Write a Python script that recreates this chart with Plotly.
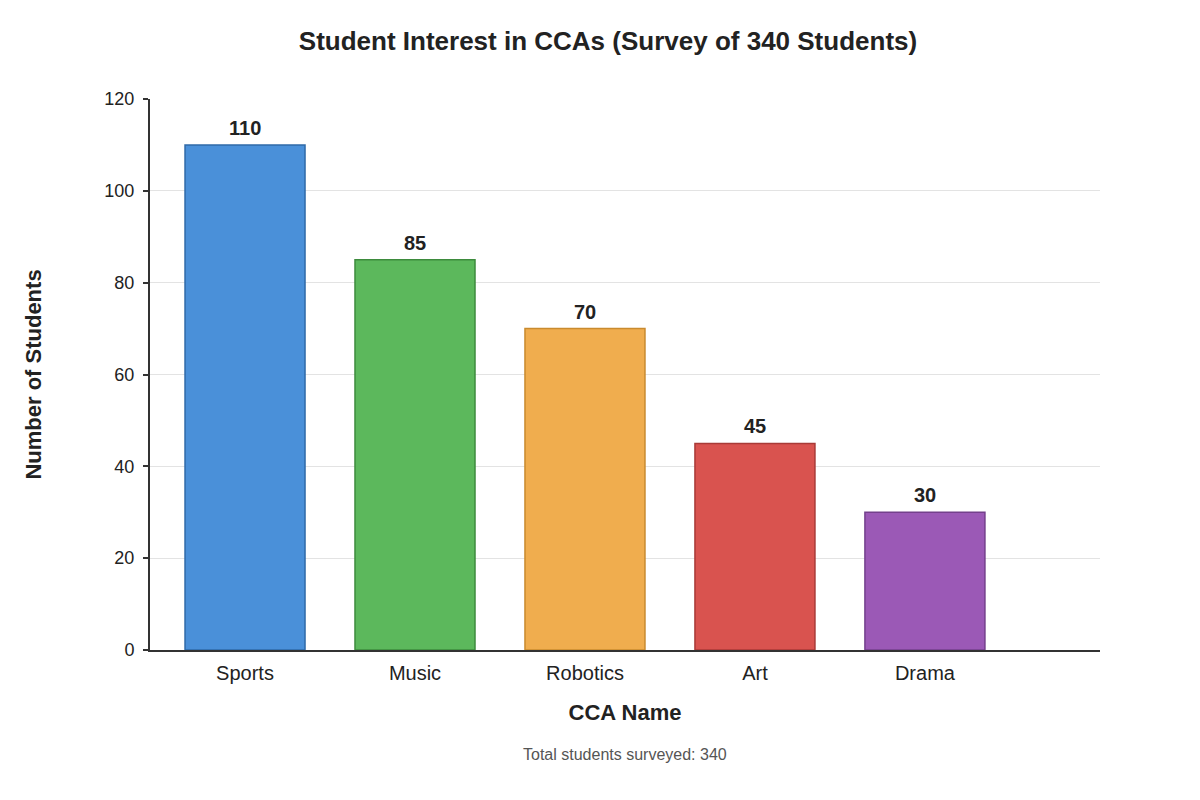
import plotly.graph_objects as go

# Datos de la encuesta
ccas = ["Sports", "Music", "Robotics", "Art", "Drama"]
students = [110, 85, 70, 45, 30]
colors = ["#4a90d9", "#5cb85c", "#f0ad4e", "#d9534f", "#9b59b6"]
outlines = ["#2f6aa8", "#3d8b3d", "#c98a2e", "#a93a37", "#74408c"]
y_ticks = [0, 20, 40, 60, 80, 100, 120]

fig = go.Figure(go.Bar(
    x=ccas,
    y=students,
    marker=dict(color=colors, line=dict(color=outlines, width=1.5)),
    width=0.706,
))

# Etiquetas de valor sobre cada barra
for cca, n in zip(ccas, students):
    fig.add_annotation(
        x=cca, y=n, text=f"<b>{n}</b>", showarrow=False,
        yanchor="bottom", yshift=4,
        font=dict(size=20, color="#222"),
    )

fig.update_layout(
    width=1200, height=800,
    paper_bgcolor="white", plot_bgcolor="white",
    font=dict(family="Liberation Sans", color="#222"),
    title=dict(text="<b>Student Interest in CCAs (Survey of 340 Students)</b>",
               x=0.5, xanchor="center", y=0.959, yanchor="middle",
               font=dict(size=26, color="#222")),
    margin=dict(l=142, r=108, t=91, b=158),
    showlegend=False,
)

fig.update_xaxes(
    range=[-0.559, 5.03],
    showline=True, linecolor="#333", linewidth=2,
    ticks="outside", ticklen=4, tickcolor="rgba(0,0,0,0)",
    tickfont=dict(size=20, color="#222"),
    title=dict(text="<b>CCA Name</b>", font=dict(size=22, color="#222"), standoff=22),
    showgrid=False,
)

fig.update_yaxes(
    range=[0, 120], tickvals=y_ticks,
    showline=True, linecolor="#333", linewidth=2,
    ticks="outside", ticklen=5, tickcolor="#333", tickwidth=2,
    ticklabelstandoff=5,
    tickfont=dict(size=18, color="#222"),
    gridcolor="#e3e3e3", gridwidth=1,
    zeroline=False,
    title=dict(text="<b>Number of Students</b>", font=dict(size=22, color="#222"), standoff=57),
)

fig.add_annotation(
    text="Total students surveyed: 340",
    xref="paper", yref="paper", x=0.5, y=-0.19, xanchor="center", yanchor="middle",
    showarrow=False, font=dict(size=16, color="#555"),
)

fig.write_html("out.html")
